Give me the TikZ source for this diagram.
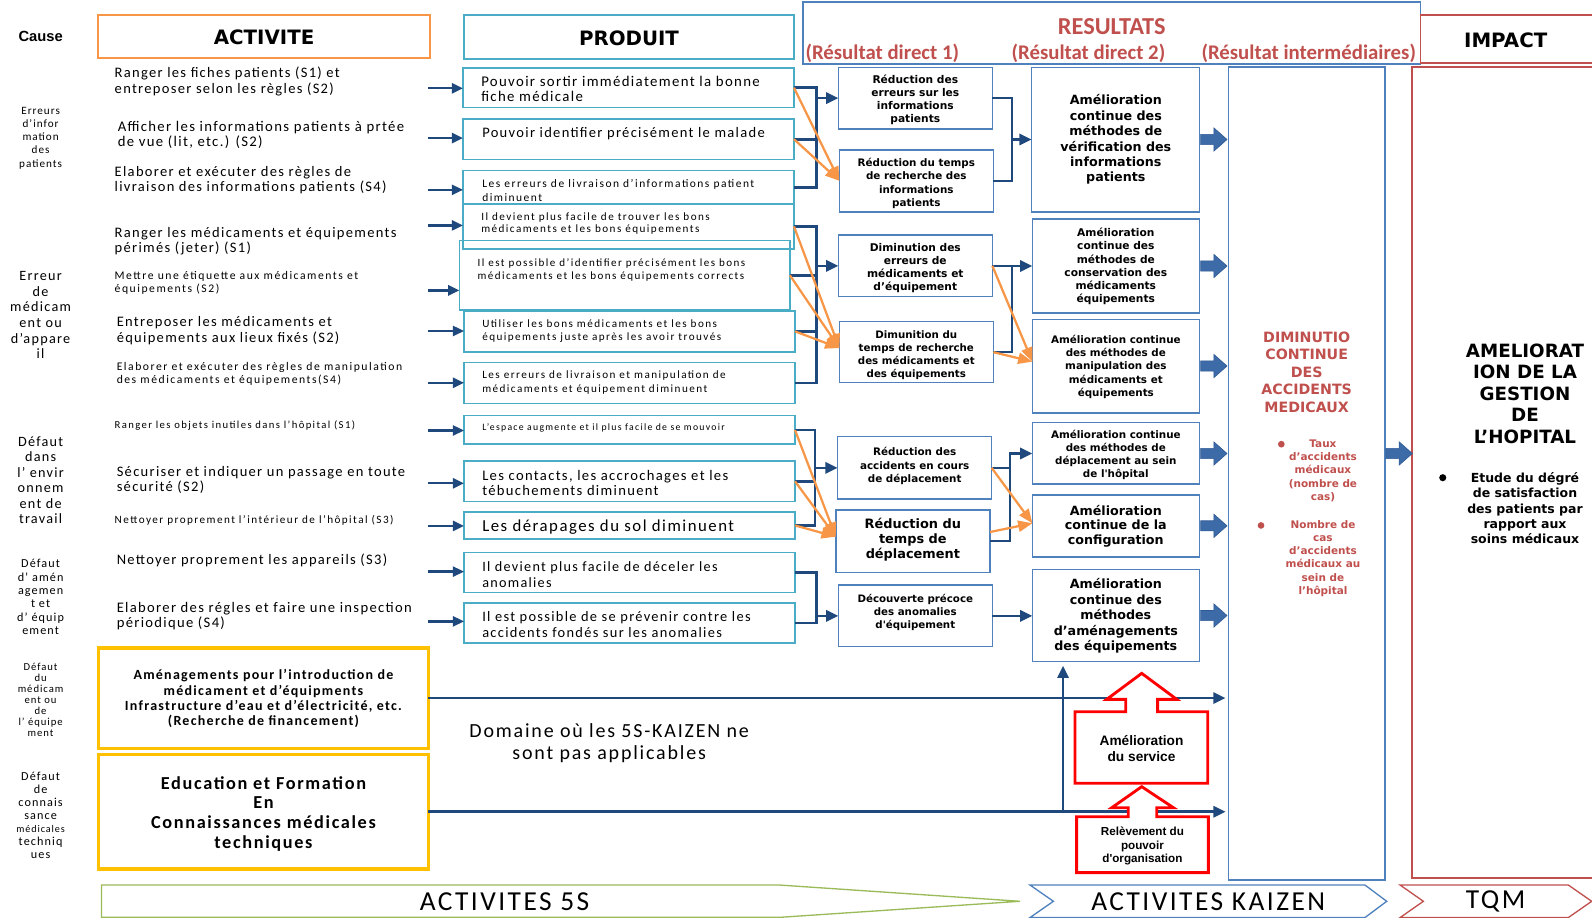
\documentclass[tikz,border=0pt]{standalone}
\usepackage{fontspec}
\setmainfont{Carlito}[LetterSpace=9]
\newfontfamily\plainf{Carlito}
\newfontfamily\wf{Carlito}[LetterSpace=13]
\newfontfamily\vb{DejaVu Sans}
\newfontfamily\ab{Liberation Sans}
\usetikzlibrary{arrows.meta,calc,fit}
\definecolor{cNavy}{HTML}{1F497D}
\definecolor{cOrange}{HTML}{F79646}
\definecolor{cAqua}{HTML}{4BACC6}
\definecolor{cBlue}{HTML}{4F81BD}
\definecolor{cRed}{HTML}{C0504D}
\definecolor{cGold}{HTML}{FFC000}
\definecolor{cGreen}{HTML}{9BBB59}
\definecolor{cBar}{HTML}{3D6BA8}
\definecolor{cBarD}{HTML}{2F5A94}
\newcommand\fs[2]{\fontsize{#1}{#2}\selectfont}
\newcommand\barr[1]{\path[barrow] (#1) ++(1,5) -- ++(13,0) -- ++(0,6.5) -- ++(13,-11.5) -- ++(-13,-11.5) -- ++(0,6.5) -- ++(-13,0) -- cycle;}
\begin{document}
\begin{tikzpicture}[x=1pt,y=-1pt,
  every node/.style={inner sep=0pt, outer sep=0pt},
  box/.style={draw, line width=1.6pt},
  pbox/.style={box, draw=cAqua},
  rbox/.style={box, draw=cBlue},
  txt/.style={anchor=west, align=left},
  ctr/.style={align=center},
  bl/.style={draw=cNavy, line width=2.6pt},
  bla/.style={bl, -{Triangle[length=12pt,width=11pt]}},
  aa/.style={draw=cNavy, line width=2.3pt, -{Triangle[length=11pt,width=10pt]}},
  orar/.style={draw=cOrange, line width=2.2pt, -{Triangle[length=14pt,width=11pt]}},
  barrow/.style={fill=cBar, draw=cBarD, line width=0.6pt},
  redsh/.style={draw=red, line width=2.8pt, fill=white, line join=miter},
]
\useasboundingbox (0,0) rectangle (1568,904);
\fill[white] (0,0) rectangle (1568,904);

% ---------- headers ----------
\node[font=\ab\bfseries\fs{14.5}{16}] (c0) at (40,35.5) {Cause};
\node[box, draw=cOrange, fit={(96.7,14.8) (423.5,57.4)}] (hact) {};
\node[font=\vb\bfseries\fs{19.5}{22}] (hactt) at (260.1,37) {ACTIVITE};
\node[box, draw=cAqua, fit={(457,14.8) (782,58.4)}] (hprod) {};
\node[font=\vb\bfseries\fs{19.5}{22}] (hprodt) at (619.5,37.5) {PRODUIT};
\node[box, draw=cBlue, fit={(791,2) (1399,63)}] (hres) {};
\node[font=\plainf\bfseries\fs{24}{26}, text=cRed] (tres) at (1095,26.5) {RESULTATS};
\node[font=\plainf\bfseries\fs{20.5}{22}, text=cRed] (tr1) at (869,52.5) {(Résultat direct 1)};
\node[font=\plainf\bfseries\fs{20.5}{22}, text=cRed] (tr2) at (1072,52.5) {(Résultat direct 2)};
\node[font=\plainf\bfseries\fs{20.5}{22}, text=cRed] (tr3) at (1289,52.5) {(Résultat intermédiaires)};
\draw[cRed, line width=1.6pt] (1399,15) rectangle (1600,62);
\node[font=\vb\bfseries\fs{19.5}{22}] (himp) at (1483,39.4) {IMPACT};

% ---------- causes ----------
\node[ctr, font=\fs{11}{13}] (c1) at (40,136) {Erreurs\\d’infor\\mation\\des\\patients};
\node[ctr, font=\fs{14}{15.4}] (c2) at (40,310.5) {Erreur\\de\\médicam\\ent ou\\d’appare\\il};
\node[ctr, font=\fs{14}{15.2}] (c3) at (40,473) {Défaut\\dans\\l’ envir\\onnem\\ent de\\travail};
\node[ctr, font=\fs{12}{13.2}] (c4) at (40,588) {Défaut\\d’ amén\\agemen\\t et\\d’ équip\\ement};
\node[ctr, font=\fs{10.5}{10.8}] (c5) at (40,689.5) {Défaut\\du\\médicam\\ent ou\\de\\l’ équipe\\ment};
\node[ctr, font=\fs{12}{12.7}] (c6) at (40,803) {Défaut\\de\\connais\\sance\\{\fs{10}{12.7}médicales}\\techniq\\ues};

% ---------- activities ----------
\node[txt, font=\fs{14.3}{16}] (a1) at (113,80) {Ranger les fiches patients (S1) et\\entreposer selon les règles  (S2)};
\node[txt, font=\fs{14.5}{15}] (a2) at (116,132.5) {Afficher les informations patients à prtée\\de vue (lit, etc.) (S2)};
\node[txt, font=\fs{14.3}{15}] (a3) at (113,177.5) {Elaborer et exécuter des règles de\\livraison des informations patients (S4)};
\node[txt, font=\fs{14.3}{15}] (a4) at (113,237.5) {Ranger les médicaments et équipements\\périmés (jeter) (S1)};
\node[txt, font=\wf\fs{11.5}{13}] (a5) at (113,278.5) {Mettre une étiquette aux médicaments et\\équipements (S2)};
\node[txt, font=\fs{14.3}{16}] (a6) at (115,326) {Entreposer les médicaments et\\équipements aux lieux fixés (S2)};
\node[txt, font=\wf\fs{11.5}{13}] (a7) at (115,368.5) {Elaborer et exécuter des règles de manipulation\\des médicaments et équipements(S4)};
\node[txt, font=\wf\fs{10.5}{12}] (a8) at (113,419) {Ranger les objets inutiles dans l’hôpital (S1)};
\node[txt, font=\fs{14.3}{15}] (a9) at (115,472.5) {Sécuriser et indiquer  un passage en toute\\sécurité (S2)};
\node[txt, font=\wf\fs{11}{12}] (a10) at (113,512) {Nettoyer proprement l’intérieur de l’hôpital (S3)};
\node[txt, font=\fs{14.3}{16}] (a11) at (115,552) {Nettoyer proprement les appareils (S3)};
\node[txt, font=\fs{14.4}{15}] (a12) at (115,606.5) {Elaborer des régles et faire une inspection\\périodique (S4)};

% ---------- products ----------
\node[pbox, fit={(456,66.7) (782,106)}] (p1) {};
\node[pbox, fit={(456,117.2) (782,157)}] (p2) {};
\node[pbox, fit={(456,168) (782,201)}] (p3) {};
\node[pbox, fit={(456,201) (782,245)}] (p4) {};
\node[pbox, fit={(452.4,237) (778,305.3)}] (p5) {};
\node[pbox, fit={(457,306.3) (783,346.4)}] (p6) {};
\node[pbox, fit={(457,357.2) (783,397.3)}] (p7) {};
\node[pbox, fit={(457,409.4) (783,437.6)}] (p8) {};
\node[pbox, fit={(457,454) (783,494)}] (p9) {};
\node[pbox, fit={(457,504) (783,531)}] (p10) {};
\node[pbox, fit={(457,544) (783,583.7)}] (p11) {};
\node[pbox, fit={(457,594.2) (783,633)}] (p12) {};

\node[txt, font=\fs{14.6}{15.4}] (t1) at (474,87.5) {Pouvoir sortir immédiatement la bonne\\fiche médicale};
\node[txt, font=\fs{14.3}{15.4}] (t2) at (475,131.3) {Pouvoir identifier précisément le malade};
\node[txt, font=\wf\fs{11.3}{14}] (t3) at (475,187.6) {Les erreurs de livraison d’informations patient\\diminuent};
\node[txt, font=\wf\fs{11}{12.5}] (t4) at (474,220.3) {Il devient plus facile de trouver les bons\\médicaments et les bons équipements};
\node[txt, font=\wf\fs{10.9}{13}] (t5) at (470.5,266) {Il est possible d’identifier précisément les bons\\médicaments et les bons  équipements corrects};
\node[txt, font=\wf\fs{11}{12.3}] (t6) at (475,326.2) {Utiliser les bons médicaments et les bons\\équipements juste après les avoir trouvés};
\node[txt, font=\wf\fs{11}{13.5}] (t7) at (475,376.7) {Les erreurs de livraison et manipulation de\\médicaments et équipement diminuent};
\node[txt, font=\wf\fs{9.6}{11}] (t8) at (475,421.2) {L’espace augmente et il plus facile de se mouvoir};
\node[txt, font=\fs{14.4}{15}] (t9) at (475,476) {Les contacts, les accrochages et les\\tébuchements diminuent};
\node[txt, font=\fs{16.5}{17}] (t10) at (475,519.4) {Les dérapages du sol diminuent};
\node[txt, font=\fs{14}{15.6}] (t11) at (475,566) {Il devient plus facile de déceler les\\anomalies};
\node[txt, font=\fs{14.2}{15.4}] (t12) at (475,615) {Il est possible de se prévenir contre les\\accidents fondés sur les anomalies};

% ---------- activity arrows ----------
\foreach \i/\yy in {1/87,2/136,3/187,4/222,5/286,6/326,7/377,8/424,9/476,10/518,11/563,12/612}{
  \coordinate (s\i) at (422,\yy);
  \draw[aa] (s\i) -- (s\i -| p\i.west);
}

% ---------- direct results 1 ----------
\node[rbox, fit={(825.7,66.3) (977.4,127)}] (r1a) {};
\node[ctr, font=\vb\bfseries\fs{10.5}{12.8}] (r1at) at (901.5,98.6) {Réduction des\\erreurs sur les\\informations\\patients};
\node[rbox, fit={(826.7,147.7) (978.4,208.5)}] (r1b) {};
\node[ctr, font=\vb\bfseries\fs{10.2}{13.1}] (r1bt) at (902.5,180.8) {Réduction du temps\\de recherche des\\informations\\patients};
\node[rbox, fit={(825.7,231.5) (977.4,292.2)}] (r1c) {};
\node[ctr, font=\vb\bfseries\fs{10.5}{12.8}] (r1ct) at (901.5,264) {Diminution des\\erreurs de\\médicaments et\\d’équipement};
\node[rbox, fit={(826.7,316.8) (978.4,376.9)}] (r1d) {};
\node[ctr, font=\vb\bfseries\fs{10.1}{12.8}] (r1dt) at (902.5,349.4) {Dimunition du\\temps de recherche\\des médicaments et\\des équipements};
\node[rbox, fit={(825,430.1) (976.7,491.5)}] (r1e) {};
\node[ctr, font=\vb\bfseries\fs{10.2}{13.3}] (r1et) at (900.9,459) {Réduction des\\accidents en cours\\de déplacement};
\node[rbox, fit={(823.1,502.3) (975.1,563.7)}] (r1f) {};
\node[ctr, font=\vb\bfseries\fs{12.7}{15.1}] (r1ft) at (899.1,531.7) {Réduction du\\temps de\\déplacement};
\node[rbox, fit={(825.7,576.2) (977.4,636.9)}] (r1g) {};
\node[ctr, font=\vb\bfseries\fs{10.1}{12.6}] (r1gt) at (901.5,603.2) {Découverte précoce\\des anomalies\\d'équipement};

% ---------- direct results 2 ----------
\node[rbox, fit={(1016.1,66.3) (1181.5,208.5)}] (r2a) {};
\node[ctr, font=\vb\bfseries\fs{12.5}{15.2}] (r2at) at (1099,137.5) {Amélioration\\continue des\\méthodes de\\vérification des\\informations\\patients};
\node[rbox, fit={(1016.8,216) (1181.5,308)}] (r2b) {};
\node[ctr, font=\vb\bfseries\fs{10.5}{13}] (r2bt) at (1099,262.5) {Amélioration\\continue des\\méthodes de\\conservation des\\médicaments\\équipements};
\node[rbox, fit={(1016.8,314.5) (1181.5,406.5)}] (r2c) {};
\node[ctr, font=\vb\bfseries\fs{10.2}{13.1}] (r2ct) at (1099,361.2) {Amélioration continue\\des méthodes de\\manipulation des\\médicaments et\\équipements};
\node[rbox, fit={(1016.8,416.3) (1181.5,477)}] (r2d) {};
\node[ctr, font=\vb\bfseries\fs{10.2}{12.8}] (r2dt) at (1099,447.8) {Amélioration continue\\des méthodes de\\déplacement au sein\\de l'hôpital};
\node[rbox, fit={(1016.8,487.5) (1181.5,548.3)}] (r2e) {};
\node[ctr, font=\vb\bfseries\fs{12.5}{14.6}] (r2et) at (1099,518.2) {Amélioration\\continue de la\\configuration};
\node[rbox, fit={(1016.8,560.8) (1181.5,651.7)}] (r2f) {};
\node[ctr, font=\vb\bfseries\fs{12.5}{15.2}] (r2ft) at (1099,606.7) {Amélioration\\continue des\\méthodes\\d’aménagements\\des équipements};

% ---------- intermediate & impact ----------
\node[box, draw=cBlue, fit={(1210,66) (1364,867)}] (int) {};
\node[ctr, font=\vb\bfseries\fs{14}{17.2}, text=cRed] (intt) at (1287,366.5) {DIMINUTIO\\CONTINUE\\DES\\ACCIDENTS\\MEDICAUX};
\fill[cRed] (1262,437.5) circle[radius=3.3pt];
\node[ctr, font=\vb\bfseries\fs{10.3}{13.1}, text=cRed] (ib1) at (1303,463.7) {Taux\\d’accidents\\médicaux\\(nombre de\\cas)};
\fill[cRed] (1242,517.5) circle[radius=3.3pt];
\node[ctr, font=\vb\bfseries\fs{10.3}{12.95}, text=cRed] (ib2) at (1303,550) {Nombre de\\cas\\d’accidents\\médicaux au\\sein de\\l’hôpital};

\draw[cRed, line width=1.6pt] (1391,66) rectangle (1600,865);
\node[ctr, font=\vb\bfseries\fs{18}{21.2}] (impt) at (1502,387.5) {AMELIORAT\\ION DE LA\\GESTION\\DE\\L’HOPITAL};
\fill[black] (1421,470.5) circle[radius=3.5pt];
\node[ctr, font=\vb\bfseries\fs{12.3}{15.1}] (impb) at (1502,500.7) {Etude du dégré\\de satisfaction\\des patients par\\rapport  aux\\soins médicaux};

% ---------- blue brackets and orange links ----------
\coordinate (g1) at (804.4,0);
\coordinate (g3) at (802.7,0);
\coordinate (h1) at (996.6,0);
\coordinate (h3) at (994.8,0);

% group 1
\draw[bl] (p1.east) -| (g1 |- p3.east) -- (p3.east);
\draw[bl] (p2.east) -- (p2.east -| g1);
\draw[bla] (g1 |- r1a.west) -- (r1a.west);
\draw[bl] (r1a.east) -| (h1 |- r1b.east) -- (r1b.east);
\draw[bla] (h1 |- r2a.west) -- (r2a.west);
% group 2
\draw[bl] (p4.east) -| (g1 |- p7.east) -- (p7.east);
\draw[bl] (p5.east) -- (p5.east -| g1);
\draw[bl] (p6.east) -- (p6.east -| g1);
\draw[bla] (g1 |- r1c.west) -- (r1c.west);
\draw[bl] (r1c.east) -| (h1 |- r1d.east) -- (r1d.east);
\draw[bla] (h1 |- r2b.west) -- (r2b.west);
% group 3
\draw[bl] (p8.east) -| (g3 |- p10.east) -- (p10.east);
\draw[bl] (p9.east) -- (p9.east -| g3);
\draw[bla] (g3 |- r1e.west) -- (r1e.west);
\draw[bl] (r1e.east) -- (r1e.east -| h3);
\draw[bla] (r1f.east) -| (h3 |- r2d.west) -- (r2d.west);
% group 4
\draw[bl] (p11.east) -| (g1 |- p12.east) -- (p12.east);
\draw[bla] (g1 |- r1g.west) -- (r1g.west);
\draw[bla] (r1g.east) -- (r1g.east -| r2f.west);

% orange
\coordinate (o2) at ($(r1d.west)+(0,-4)$);
\coordinate (o3) at ($(r2c.west)+(0,-4.3)$);
\coordinate (o4) at ($(r1f.west)+(0,-4.4)$);
\coordinate (o5) at ($(r2e.west)+(0,-2.5)$);
\draw[orar] (p1.east) -- (r1b.west);
\draw[orar] (p2.east) -- (r1b.west);
\draw[orar] (p4.east) -- (o2);
\draw[orar] (p5.east) -- (o2);
\draw[orar] (p6.east) -- (o2);
\draw[orar] (r1c.east) -- (o3);
\draw[orar] (r1d.east) -- (o3);
\draw[orar] (p8.east) -- (o4);
\draw[orar] (p9.east) -- (o4);
\draw[orar] (p10.east) -- (o4);
\draw[orar] (r1e.east) -- (o5);
\draw[orar] ($(r1f.east)+(0,-9)$) -- (o5);

% block arrows
\barr{r2a.east}
\barr{r2b.east}
\barr{r2c.east}
\barr{r2d.east}
\barr{r2e.east}
\barr{r2f.east}
\barr{int.east |- r2d.east}

% ---------- bottom: non applicable domain ----------
\node[box, draw=cGold, line width=3.5pt, fit={(97,638) (422,737)}] (y1) {};
\node[ctr, font=\bfseries\fs{13.8}{15.1}] (y1t) at (259.5,688.4) {Aménagements pour l’introduction de\\médicament et d’équipments\\Infrastructure d’eau et d’électricité, etc.\\(Recherche de financement)};
\node[box, draw=cGold, line width=3.5pt, fit={(97,743) (422,856)}] (y2) {};
\node[ctr, font=\bfseries\fs{18}{19.3}] (y2t) at (259.5,801.5) {Education et Formation\\En\\Connaissances médicales\\techniques};
\node[ctr, font=\fs{19.7}{21.5}] (dom) at (600,732.2) {Domaine où les 5S-KAIZEN ne\\sont pas applicables};

\coordinate (e1) at (1207,0);
\coordinate (v) at (1047,799.5);
\draw[bla] (y1.east) -- (y1.east -| e1);
\draw[bla] (y2.east) -- (y2.east -| e1);
\draw[bla, shorten >=4pt] (v) -- (v |- r2f.south);

% red block arrows
\path[redsh] (1058.8,701) -- (1108.7,701) -- (1108.7,688.8) -- (1090,688.8) -- (1124.5,663.2) -- (1159,688.8) -- (1140.2,688.8) -- (1140.2,701) -- (1189.5,701) -- (1189.5,771.5) -- (1058.8,771.5) -- cycle;
\node[ctr, font=\ab\bfseries\fs{13.5}{15.8}] (svc) at (1124.3,737.4) {Amélioration\\du service};
\path[redsh] (1060.4,804.4) -- (1111.3,804.4) -- (1111.3,795.5) -- (1095,795.5) -- (1124.5,774.8) -- (1155.7,795.5) -- (1139.3,795.5) -- (1139.3,804.4) -- (1190.1,804.4) -- (1190.1,859.5) -- (1060.4,859.5) -- cycle;
\node[ctr, font=\ab\bfseries\fs{11.5}{13.3}] (org) at (1125.2,833.2) {Relèvement du\\pouvoir\\d'organisation};

% ---------- bottom chevrons ----------
\draw[cGreen, line width=1.3pt] (100,871.7) -- (768,871.7) -- (1004.6,887.7) -- (768,903.5) -- (100,903.5) -- cycle;
\node[font=\fs{27}{29}] (b5s) at (497,888) {ACTIVITES 5S};
\draw[cBlue, line width=1.3pt] (1014.5,871.7) -- (1344.4,871.7) -- (1365.8,887.7) -- (1344.4,903.7) -- (1014.5,903.7) -- (1037.5,887.7) -- cycle;
\node[font=\fs{27}{29}] (bkz) at (1190,888) {ACTIVITES KAIZEN};
\draw[cRed, line width=1.3pt] (1379,871.7) -- (1544.7,871.7) -- (1567.7,887.7) -- (1544.7,903.7) -- (1379,903.7) -- (1401.9,887.7) -- cycle;
\node[font=\fs{27}{29}] (btqm) at (1473,888) {TQM};
\end{tikzpicture}
\end{document}
